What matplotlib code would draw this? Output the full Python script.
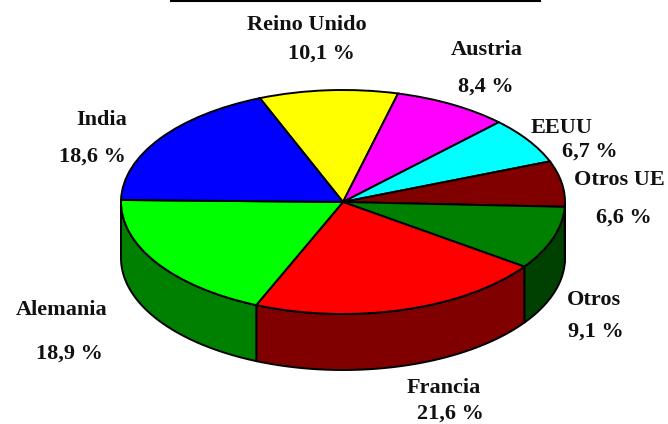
#!/usr/bin/env python

import numpy as np
import matplotlib
matplotlib.use("Agg")
import matplotlib.pyplot as plt

categories = ["Reino Unido", "Austria", "EEUU", "Otros UE", "Otros", "Francia", "Alemania", "India"]
values = [10.1, 8.4, 6.7, 6.6, 9.1, 21.6, 18.9, 18.6]
top_colors = ["#ffff00", "#ff00ff", "#00ffff", "#800000", "#008000", "#ff0000", "#00ff00", "#0000ff"]
wall_colors = ["#808000", "#800080", "#008080", "#400000", "#004000", "#800000", "#008000", "#000080"]

# label centre x and baseline y in pixels: name then value
name_pos = [(307, 30), (487, 55), (562, 133), (619, 185), (594, 305), (444, 393), (62, 315), (102, 125)]
value_pos = [(321, 59), (486, 92), (590, 157), (624, 223), (596, 337), (450, 419), (69, 359), (92, 162)]

W, H = 668, 424
cx, cy, rx, ry = 343, 202, 222, 112
depth = 56 / ry


def px(x, y):
    return (x - cx) / rx, (cy - y) / ry


fig = plt.figure(figsize=(W / 100, H / 100), dpi=100)
ax = fig.add_axes([0, 0, 1, 1])

wedges, _ = ax.pie(values, colors=top_colors, startangle=112, counterclock=False,
                   wedgeprops={"edgecolor": "black", "linewidth": 1.4, "zorder": 3})
ax.set_aspect("auto")
ax.set_xlim(px(0, 0)[0], px(W, 0)[0])
ax.set_ylim(px(0, H)[1], px(0, 0)[1])
ax.axis("off")

# side wall, only the front half of the ellipse shows
for w, col in zip(wedges, wall_colors):
    for k in (-360, 0, 360):
        a = max(w.theta1 + k, 180)
        b = min(w.theta2 + k, 360)
        if b <= a:
            continue
        t = np.radians(np.linspace(a, b, 60))
        xs = np.concatenate([np.cos(t), np.cos(t[::-1])])
        ys = np.concatenate([np.sin(t), np.sin(t[::-1]) - depth])
        ax.fill(xs, ys, facecolor=col, edgecolor="black", linewidth=1.4, zorder=2)

lx0, ly = px(171, 1)
lx1, _ = px(540, 1)
ax.plot([lx0, lx1], [ly, ly], color="black", linewidth=1.5, clip_on=False)

font = {"family": "Liberation Serif", "weight": "bold", "size": 16, "color": "#111111",
        "ha": "center", "va": "baseline"}
for name, val, np_, vp in zip(categories, values, name_pos, value_pos):
    ax.text(*px(*np_), name, **font)
    ax.text(*px(*vp), "{:.1f} %".format(val).replace(".", ","), **font)

fig.savefig("out.png", dpi=100)
